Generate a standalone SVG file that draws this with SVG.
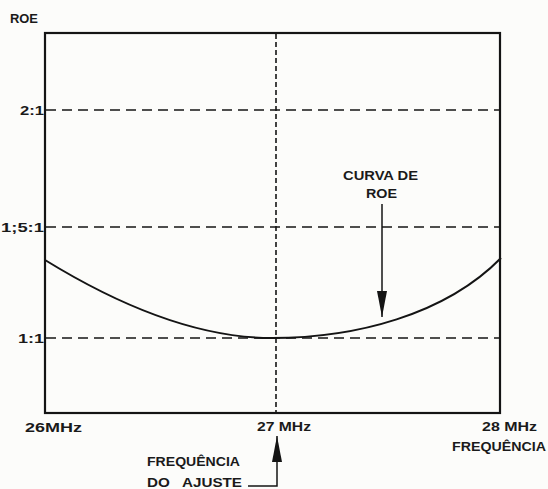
<svg xmlns="http://www.w3.org/2000/svg" width="548" height="489" viewBox="0 0 548 489">
<style>
.frame{fill:none;stroke:#141414;stroke-width:2.2}
.grid{fill:none;stroke:#141414;stroke-width:1.6;stroke-dasharray:10 6}
.vgrid{fill:none;stroke:#141414;stroke-width:1.6;stroke-dasharray:5 3}
.curve{fill:none;stroke:#141414;stroke-width:2}
.conn{fill:none;stroke:#141414;stroke-width:1.5}
text{font-family:"Liberation Sans",Arial,sans-serif;font-weight:bold;font-size:13.5px;fill:#1a1a1a}
</style>
<defs>
<marker id="arr" viewBox="0 0 26 10" refX="26" refY="5" markerWidth="26" markerHeight="10" markerUnits="userSpaceOnUse" orient="auto">
<path d="M0,0 L26,5 L0,10 z" fill="#141414"/>
</marker>
</defs>
<rect width="548" height="489" fill="#fcfcfa"/>
<g id="chart">
<line class="grid" x1="46" y1="110" x2="500" y2="110"/>
<line class="grid" x1="46" y1="227" x2="500" y2="227"/>
<line class="grid" x1="46" y1="338" x2="500" y2="338"/>
<line class="vgrid" x1="276" y1="34" x2="276" y2="413"/>
<rect class="frame" x="45" y="33" width="455" height="380"/>
<path class="curve" d="M45,260 C110,300 190,338 272,338 C355,338 445,315 501,258"/>
</g>
<g id="axis-labels">
<text x="10" y="23" textLength="28" lengthAdjust="spacingAndGlyphs">ROE</text>
<text x="20" y="115" textLength="24" lengthAdjust="spacingAndGlyphs">2:1</text>
<text x="1" y="232" textLength="43" lengthAdjust="spacingAndGlyphs">1;5:1</text>
<text x="18" y="343" textLength="26" lengthAdjust="spacingAndGlyphs">1:1</text>
<text x="25" y="432" textLength="57" lengthAdjust="spacingAndGlyphs">26MHz</text>
<text x="257" y="431" textLength="54" lengthAdjust="spacingAndGlyphs">27 MHz</text>
<text x="482" y="431" textLength="55" lengthAdjust="spacingAndGlyphs">28 MHz</text>
<text x="452" y="451" textLength="94" lengthAdjust="spacingAndGlyphs">FREQUÊNCIA</text>
</g>
<g id="curva-label">
<text x="343" y="180" textLength="75" lengthAdjust="spacingAndGlyphs">CURVA DE</text>
<text x="366" y="198" textLength="31" lengthAdjust="spacingAndGlyphs">ROE</text>
</g>
<g id="ajuste-label">
<text x="147" y="466" textLength="93" lengthAdjust="spacingAndGlyphs">FREQUÊNCIA</text>
<text x="147" y="487" textLength="95" lengthAdjust="spacingAndGlyphs" xml:space="preserve">DO   AJUSTE</text>
</g>
<g id="connectors">
<path class="conn" d="M382,204 V317" marker-end="url(#arr)"/>
<path class="conn" d="M248,486 H277 V436" marker-end="url(#arr)"/>
</g>
</svg>
